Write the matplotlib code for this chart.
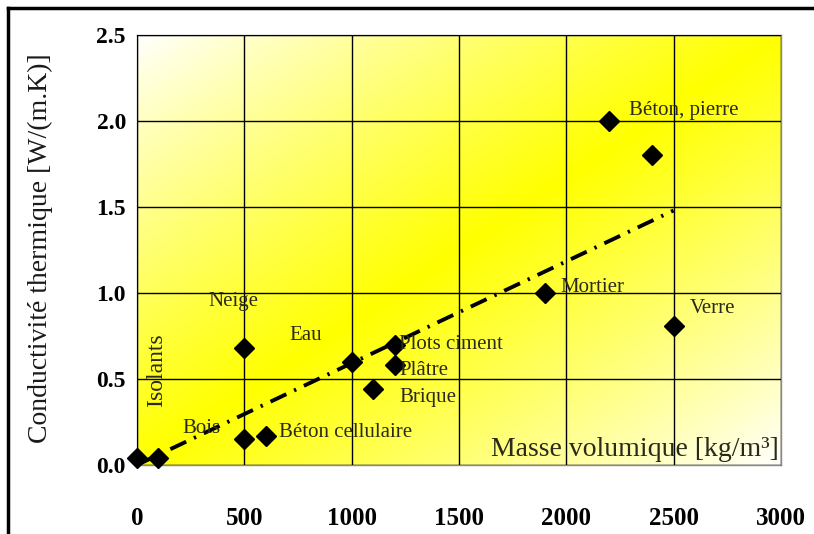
import numpy as np
import matplotlib
matplotlib.use("Agg")
import matplotlib.pyplot as plt
from matplotlib.colors import LinearSegmentedColormap
from matplotlib.lines import Line2D

# Data
densite = [0, 100, 500, 500, 600, 1000, 1100, 1200, 1200, 1900, 2200, 2400, 2500]
conductivite = [0.04, 0.04, 0.68, 0.15, 0.17, 0.60, 0.44, 0.70, 0.58, 1.00, 2.00, 1.80, 0.81]
trend_x = [0, 2500]
trend_y = [0.0, 1.48]
x_ticks = [0, 500, 1000, 1500, 2000, 2500, 3000]
y_ticks = [0.0, 0.5, 1.0, 1.5, 2.0, 2.5]
y_tick_labels = ["0.0", "0.5", "1.0", "1.5", "2.0", "2.5"]

plt.rcParams['font.family'] = ['Liberation Serif', 'DejaVu Serif']

fig = plt.figure(figsize=(8.14, 5.34), dpi=100)
ax = fig.add_axes([137/814, 1-465/534, (781-137)/814, (465-35)/534])
ax.set_xlim(0, 3000)
ax.set_ylim(0, 2.5)

# gradient background
n = 300
u = np.linspace(0, 1, n)
U, V = np.meshgrid(u, u)  # V: 0 at top row
t = (U + V) / 2
f = np.clip(1 - np.abs(2*t - 1), 0, 1) ** 0.9
cmap = LinearSegmentedColormap.from_list("yl", ["#ffffff", "#ffff00"])
ax.imshow(f, cmap=cmap, vmin=0, vmax=1, extent=[0, 3000, 0, 2.5],
          origin="upper", aspect="auto", zorder=0, interpolation="bilinear")

ax.set_xticks(x_ticks)
ax.set_yticks(y_ticks)
ax.set_yticklabels(y_tick_labels)
ax.grid(True, color="black", linewidth=1.0, zorder=1)
ax.set_axisbelow(False)
ax.tick_params(axis="both", length=0)
ax.tick_params(axis="x", pad=30, labelsize=18)
ax.tick_params(axis="y", pad=8, labelsize=17)
for lab in ax.get_xticklabels() + ax.get_yticklabels():
    lab.set_fontweight("bold")
for s in ax.spines.values():
    s.set_color("#888888")
    s.set_linewidth(1.0)

ax.plot(trend_x, trend_y, color="black", linewidth=2.8,
        dashes=[4.5, 2.2, 0.6, 2.2], zorder=3)
ax.plot(densite, conductivite, linestyle="none", marker="D", markersize=10,
        color="black", zorder=4, clip_on=False)

lab_kw = dict(fontsize=15, color="#2a2a1a", va="center", ha="left", zorder=5)
ax.text(2292, 2.06, "Béton, pierre", **lab_kw)
ax.text(1970, 1.03, "Mortier", **lab_kw)
ax.text(2575, 0.91, "Verre", **lab_kw)
ax.text(331, 0.95, "Neige", **lab_kw)
ax.text(708, 0.75, "Eau", **lab_kw)
ax.text(1220, 0.70, "Plots ciment", **lab_kw)
ax.text(1220, 0.55, "Plâtre", **lab_kw)
ax.text(1220, 0.39, "Brique", **lab_kw)
ax.text(210, 0.21, "Bois", **lab_kw)
ax.text(661, 0.19, "Béton cellulaire", **lab_kw)
ax.text(93, 0.55, "Isolants", fontsize=17, rotation=90, ha="center",
        va="center", color="#2a2a1a", zorder=5)
ax.text(2990, 0.09, "Masse volumique [kg/m³]", fontsize=20, ha="right",
        va="center", color="#2a2a1a", zorder=5)

fig.text(40/814, 1-248/534, "Conductivité thermique [W/(m.K)]", rotation=90,
         ha="center", va="center", fontsize=20, color="#1a1a1a")

# outer frame (left and top)
fig.add_artist(Line2D([8/814, 8/814], [0, 1-8/534], color="black",
                      linewidth=2.5, transform=fig.transFigure))
fig.add_artist(Line2D([8/814, 1], [1-8/534, 1-8/534], color="black",
                      linewidth=2.5, transform=fig.transFigure))

fig.savefig("out.png", dpi=100)
